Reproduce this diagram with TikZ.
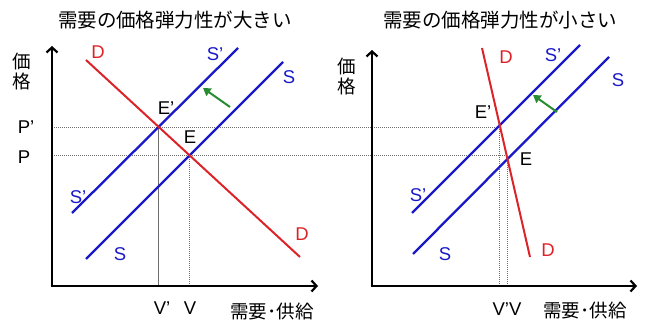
\documentclass[tikz,border=0pt]{standalone}
\usepackage{fontspec}
\setmainfont{Liberation Sans}
\newfontfamily\jp{Noto Sans CJK JP}
\usetikzlibrary{arrows.meta,intersections}
\definecolor{lineblue}{RGB}{25,25,200}
\definecolor{linered}{RGB}{220,35,40}
\definecolor{arrowgreen}{RGB}{40,140,50}
\definecolor{guidegray}{RGB}{110,110,110}
\begin{document}
\begin{tikzpicture}[x=1pt,y=-1pt,
  axis/.style={line width=2.2pt,black,{Straight Barb[length=5pt,width=11pt]}-{Straight Barb[length=5pt,width=11pt]},line join=miter},
  sline/.style={line width=2.3pt,lineblue},
  dline/.style={line width=2pt,linered},
  guide/.style={line width=0.7pt,guidegray,dash pattern=on 1pt off 1pt},
  vsolid/.style={line width=0.6pt,guidegray},
  shiftarrow/.style={line width=2pt,arrowgreen,-{Triangle[length=7.5pt,width=9pt]}},
  lab/.style={font=\fontsize{18.5}{18.5}\selectfont,inner sep=0pt},
  blab/.style={lab,text=lineblue},
  rlab/.style={lab,text=linered},
  klab/.style={lab,text=black},
  title/.style={font=\jp\fontsize{19.5}{20}\selectfont,inner sep=0pt},
  jlab/.style={font=\jp\fontsize{18.5}{20}\selectfont,inner sep=0pt,align=center}
]
\useasboundingbox (0,0) rectangle (646,320);

% ---------- left panel geometry ----------
\coordinate (LO) at (52,286);
\coordinate (LYT) at (52,46);
\coordinate (LXT) at (318,286);
\coordinate (LD1) at (86,60);
\coordinate (LD2) at (300,257);
\coordinate (LSp1) at (72,213);
\coordinate (LSp2) at (238,48);
\coordinate (LS1) at (86,259);
\coordinate (LS2) at (283,62);
\path[name path=LD] (LD1) -- (LD2);
\path[name path=LSp] (LSp1) -- (LSp2);
\path[name path=LS] (LS1) -- (LS2);
\path[name intersections={of=LD and LSp, by=LEp}];
\path[name intersections={of=LD and LS, by=LE}];

% ---------- right panel geometry ----------
\coordinate (RO) at (372,286);
\coordinate (RYT) at (372,50);
\coordinate (RXT) at (637,286);
\coordinate (RD1) at (482,48);
\coordinate (RD2) at (530,257);
\coordinate (RSp1) at (412,213);
\coordinate (RSp2) at (580,45);
\coordinate (RS1) at (413,254);
\coordinate (RS2) at (609,57);
\path[name path=RD] (RD1) -- (RD2);
\path[name path=RSp] (RSp1) -- (RSp2);
\path[name path=RS] (RS1) -- (RS2);
\path[name intersections={of=RD and RSp, by=REp}];
\path[name intersections={of=RD and RS, by=RE}];

% ---------- guide lines ----------
\draw[guide] (LO |- LEp) -- (LEp -| REp);
\draw[guide] (LO |- LE) -- (LE -| RE);
\draw[vsolid] (LEp) -- (LEp |- LO);
\draw[guide] (LE) -- (LE |- LO);
\draw[guide] (REp) -- (REp |- RO);
\draw[guide] (RE) -- (RE |- RO);

% ---------- axes ----------
\draw[axis] (LYT) -- (LO) -- (LXT);
\draw[axis] (RYT) -- (RO) -- (RXT);

% ---------- curves ----------
\draw[sline] (LSp1) -- (LSp2);
\draw[sline] (LS1) -- (LS2);
\draw[dline] (LD1) -- (LD2);
\draw[sline] (RSp1) -- (RSp2);
\draw[sline] (RS1) -- (RS2);
\draw[dline] (RD1) -- (RD2);

% ---------- shift arrows ----------
\coordinate (LA1) at (230,107);
\coordinate (LA2) at (203,88);
\draw[shiftarrow] (LA1) -- (LA2);
\coordinate (RA1) at (557,112);
\coordinate (RA2) at (533,95);
\draw[shiftarrow] (RA1) -- (RA2);

% ---------- titles ----------
\node[title] (tL) at (175,20) {需要の価格弾力性が大きい};
\node[title] (tR) at (500,20) {需要の価格弾力性が小さい};

% ---------- left labels ----------
\node[jlab] (yL) at (22,72) {価\\格};
\node[klab] (PpL) at (26,127) {P’};
\node[klab] (PL) at (24,157) {P};
\node[rlab] (DtL) at (98,52) {D};
\node[blab] (SptL) at (215,54) {S’};
\node[blab] (StL) at (289,77) {S};
\node[klab] (EpL) at (166,108) {E’};
\node[klab] (EL) at (190,137) {E};
\node[blab] (SpbL) at (78,197) {S’};
\node[blab] (SbL) at (120,254) {S};
\node[rlab] (DbL) at (302,234) {D};
\node[klab] (VpL) at (162,308) {V’};
\node[klab] (VL) at (190,308) {V};
\node[jlab] (qL) at (272,311) {需要･供給};

% ---------- right labels ----------
\node[jlab] (yR) at (347,77) {価\\格};
\node[rlab] (DtR) at (506,57) {D};
\node[blab] (SptR) at (553,55) {S’};
\node[blab] (StR) at (618,80) {S};
\node[klab] (EpR) at (483,112) {E’};
\node[klab] (ER) at (526,159) {E};
\node[blab] (SpbR) at (418,195) {S’};
\node[blab] (SbR) at (445,254) {S};
\node[rlab] (DbR) at (548,250) {D};
\node[klab] (VVR) at (507,309) {V’V};
\node[jlab] (qR) at (585,310) {需要･供給};
\end{tikzpicture}
\end{document}
